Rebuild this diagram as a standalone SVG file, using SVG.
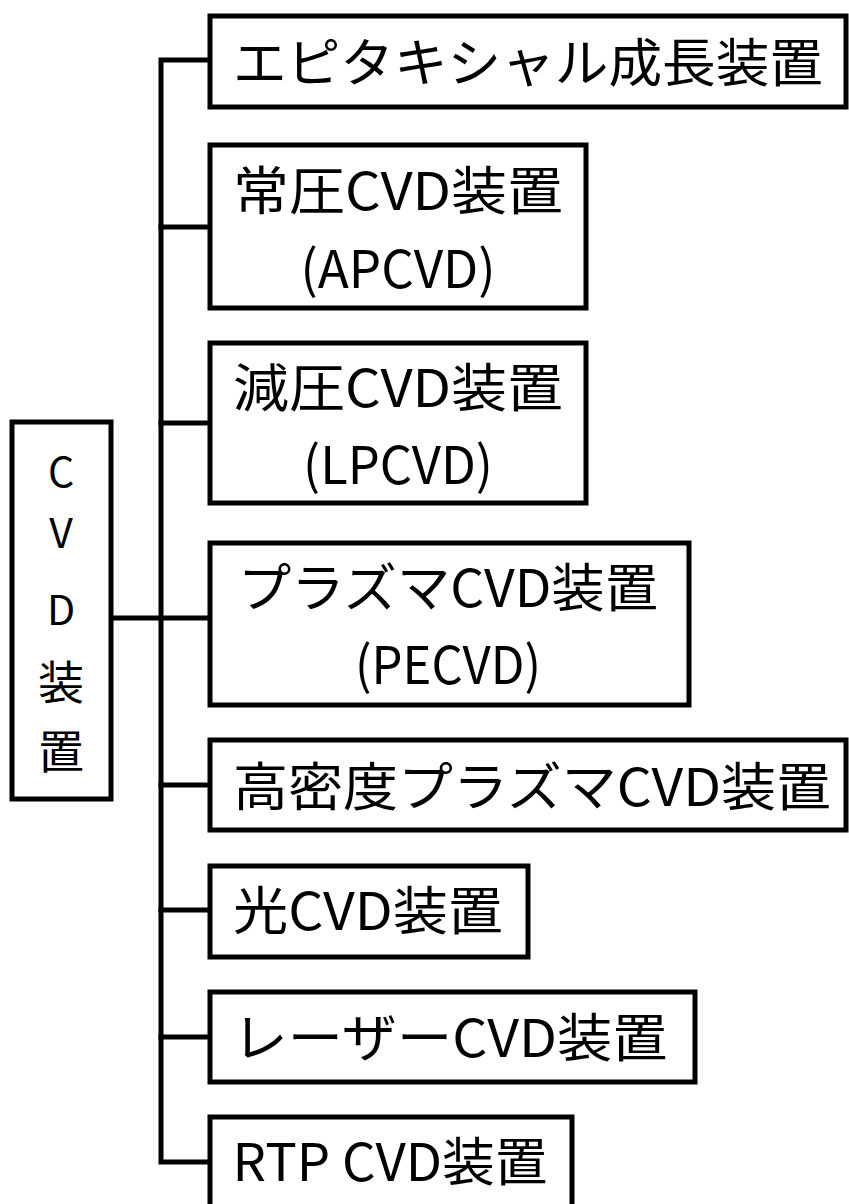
<svg xmlns="http://www.w3.org/2000/svg" width="849" height="1204" viewBox="0 0 849 1204">
<style>
.box{fill:#fff;stroke:#000;stroke-width:5}
.t{font-family:"Noto Sans CJK JP","Noto Sans",sans-serif;font-size:52px;fill:#000;text-anchor:middle}
.r{font-size:41px}
.rk{font-size:46px}
.c{fill:none;stroke:#000;stroke-width:5;stroke-linecap:square}
</style>
<rect width="849" height="1204" fill="#fff"/>
<g id="connectors">
<path class="c" d="M210 60 H161 V1162 H210"/>
<path class="c" d="M161 227 H210 M161 423 H210 M111 618 H210 M161 785 H210 M161 910 H210 M161 1037 H210"/>
</g>
<g id="root">
<rect class="box" x="12" y="422" width="99" height="377"/>
<text class="t r" x="61" y="487">C</text>
<text class="t r" x="61" y="548">V</text>
<text class="t r" x="61" y="625">D</text>
<text class="t rk" x="61" y="699">装</text>
<text class="t rk" x="61" y="768">置</text>
</g>
<g id="epitaxial">
<rect class="box" x="210" y="16" width="636" height="91"/>
<text class="t" x="528" y="82" textLength="590" lengthAdjust="spacingAndGlyphs">エピタキシャル成長装置</text>
</g>
<g id="apcvd">
<rect class="box" x="210" y="145" width="376" height="163"/>
<text class="t" x="398" y="210" textLength="330" lengthAdjust="spacingAndGlyphs">常圧CVD装置</text>
<text class="t" x="398" y="288" textLength="195" lengthAdjust="spacingAndGlyphs">(APCVD)</text>
</g>
<g id="lpcvd">
<rect class="box" x="210" y="343" width="376" height="160"/>
<text class="t" x="398" y="407" textLength="330" lengthAdjust="spacingAndGlyphs">減圧CVD装置</text>
<text class="t" x="398" y="484" textLength="190" lengthAdjust="spacingAndGlyphs">(LPCVD)</text>
</g>
<g id="pecvd">
<rect class="box" x="210" y="543" width="479" height="162"/>
<text class="t" x="448" y="607" textLength="420" lengthAdjust="spacingAndGlyphs">プラズマCVD装置</text>
<text class="t" x="448" y="684" textLength="186" lengthAdjust="spacingAndGlyphs">(PECVD)</text>
</g>
<g id="hdpcvd">
<rect class="box" x="210" y="740" width="636" height="90"/>
<text class="t" x="532" y="806" textLength="598" lengthAdjust="spacingAndGlyphs">高密度プラズマCVD装置</text>
</g>
<g id="photo">
<rect class="box" x="210" y="866" width="318" height="91"/>
<text class="t" x="368" y="930" textLength="270" lengthAdjust="spacingAndGlyphs">光CVD装置</text>
</g>
<g id="laser">
<rect class="box" x="210" y="992" width="485" height="90"/>
<text class="t" x="450" y="1057" textLength="435" lengthAdjust="spacingAndGlyphs">レーザーCVD装置</text>
</g>
<g id="rtp">
<rect class="box" x="210" y="1117" width="362" height="95"/>
<text class="t" x="390" y="1181" textLength="315" lengthAdjust="spacingAndGlyphs">RTP CVD装置</text>
</g>
</svg>
